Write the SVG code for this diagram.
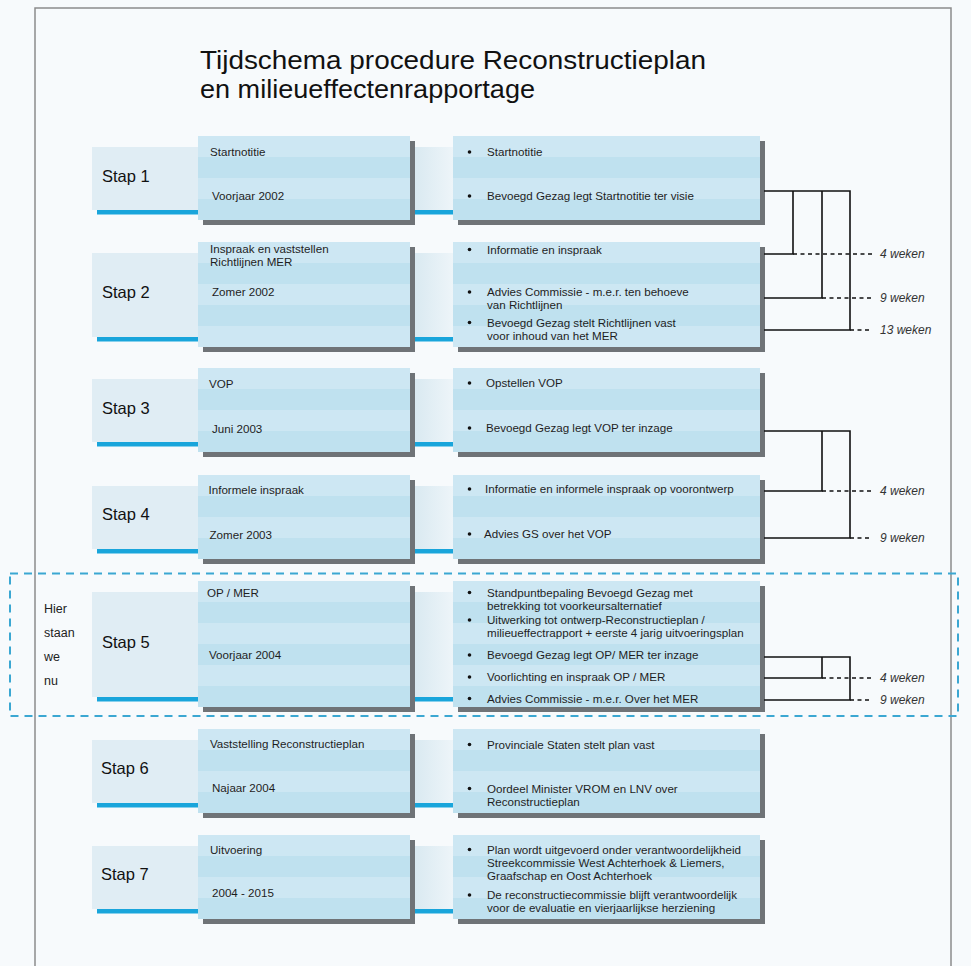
<svg xmlns="http://www.w3.org/2000/svg" width="971" height="966" viewBox="0 0 971 966">
<style>
text{font-family:"Liberation Sans",Arial,sans-serif;fill:#1e1e1e}
.t{font-size:11.6px}
.stap{font-size:16.5px;fill:#111}
.title{font-size:26px;fill:#111}
.wk{font-size:12px;font-style:italic;fill:#333}
.here{font-size:12.5px;fill:#222}
.pale{fill:#e0edf4}
.gap{fill:url(#gapgrad)}
.blue{fill:#19a5db}
.box{fill:url(#stripes)}
.shadow{fill:#6f7377}
.bul{fill:#111}
.ln{stroke:#111;stroke-width:1.6;fill:none}
.dl{stroke:#111;stroke-width:1.6;fill:none;stroke-dasharray:4 3.5}
</style>
<defs>
<pattern id="stripes" patternUnits="userSpaceOnUse" width="400" height="42">
<rect width="400" height="21" fill="#cde7f3"/>
<rect y="21" width="400" height="21" fill="#bfe1ef"/>
</pattern>
<linearGradient id="gapgrad" x1="0" y1="0" x2="1" y2="0">
<stop offset="0" stop-color="#d9e9f1"/>
<stop offset="1" stop-color="#eef5f9"/>
</linearGradient>
</defs>
<rect width="971" height="966" fill="#f7fafc"/>
<path d="M35 966V8H951V966" fill="none" stroke="#8c8c8c" stroke-width="1.5"/>

<g id="title">
<text class="title" x="200" y="68.5" textLength="506" lengthAdjust="spacingAndGlyphs">Tijdschema procedure Reconstructieplan</text>
<text class="title" x="200" y="98" textLength="335" lengthAdjust="spacingAndGlyphs">en milieueffectenrapportage</text>
</g>

<!-- Stap 1 -->
<g id="stap1" transform="translate(0,136)">
<rect class="pale" x="92" y="11" width="363" height="63"/>
<rect class="gap" x="414" y="11" width="40" height="63"/>
<rect class="blue" x="97" y="74" width="358" height="4.5"/>
<text class="stap" x="102" y="46">Stap 1</text>
</g>
<g id="stap1-fase" transform="translate(0,136)">
<rect class="shadow" x="203" y="5" width="212" height="84"/>
<rect class="box" x="198" y="0" width="212" height="84"/>
<text class="t" x="210" y="20">Startnotitie</text>
<text class="t" x="212" y="64">Voorjaar 2002</text>
</g>
<g id="stap1-acties" transform="translate(0,136)">
<rect class="shadow" x="458" y="5" width="307" height="84"/>
<rect class="box" x="453" y="0" width="307" height="84"/>
<circle class="bul" cx="469.5" cy="16" r="1.8"/>
<text class="t" x="487" y="20">Startnotitie</text>
<circle class="bul" cx="469.5" cy="60" r="1.8"/>
<text class="t" x="487" y="64">Bevoegd Gezag legt Startnotitie ter visie</text>
</g>

<!-- Stap 2 -->
<g id="stap2" transform="translate(0,242)">
<rect class="pale" x="92" y="11" width="363" height="84"/>
<rect class="gap" x="414" y="11" width="40" height="84"/>
<rect class="blue" x="97" y="95" width="358" height="4.5"/>
<text class="stap" x="102" y="56">Stap 2</text>
</g>
<g id="stap2-fase" transform="translate(0,242)">
<rect class="shadow" x="203" y="5" width="212" height="105"/>
<rect class="box" x="198" y="0" width="212" height="105"/>
<text class="t" x="210" y="11">Inspraak en vaststellen<tspan x="210" dy="13">Richtlijnen MER</tspan></text>
<text class="t" x="212" y="54">Zomer 2002</text>
</g>
<g id="stap2-acties" transform="translate(0,242)">
<rect class="shadow" x="458" y="5" width="307" height="105"/>
<rect class="box" x="453" y="0" width="307" height="105"/>
<circle class="bul" cx="469.5" cy="7.5" r="1.8"/>
<text class="t" x="487" y="11.5">Informatie en inspraak</text>
<circle class="bul" cx="469.5" cy="50" r="1.8"/>
<text class="t" x="487" y="54">Advies Commissie - m.e.r. ten behoeve<tspan x="487" dy="13">van Richtlijnen</tspan></text>
<circle class="bul" cx="469.5" cy="80.5" r="1.8"/>
<text class="t" x="487" y="84.5">Bevoegd Gezag stelt Richtlijnen vast<tspan x="487" dy="13">voor inhoud van het MER</tspan></text>
</g>

<!-- Stap 3 -->
<g id="stap3" transform="translate(0,368)">
<rect class="pale" x="92" y="11" width="363" height="63"/>
<rect class="gap" x="414" y="11" width="40" height="63"/>
<rect class="blue" x="97" y="74" width="358" height="4.5"/>
<text class="stap" x="102" y="46">Stap 3</text>
</g>
<g id="stap3-fase" transform="translate(0,368)">
<rect class="shadow" x="203" y="5" width="212" height="84"/>
<rect class="box" x="198" y="0" width="212" height="84"/>
<text class="t" x="209" y="20">VOP</text>
<text class="t" x="212" y="64.5">Juni 2003</text>
</g>
<g id="stap3-acties" transform="translate(0,368)">
<rect class="shadow" x="458" y="5" width="307" height="84"/>
<rect class="box" x="453" y="0" width="307" height="84"/>
<circle class="bul" cx="469.5" cy="15" r="1.8"/>
<text class="t" x="486" y="19">Opstellen VOP</text>
<circle class="bul" cx="469.5" cy="60" r="1.8"/>
<text class="t" x="486" y="64">Bevoegd Gezag legt VOP ter inzage</text>
</g>

<!-- Stap 4 -->
<g id="stap4" transform="translate(0,475)">
<rect class="pale" x="92" y="11" width="363" height="63"/>
<rect class="gap" x="414" y="11" width="40" height="63"/>
<rect class="blue" x="97" y="74" width="358" height="4.5"/>
<text class="stap" x="102" y="45">Stap 4</text>
</g>
<g id="stap4-fase" transform="translate(0,475)">
<rect class="shadow" x="203" y="5" width="212" height="84"/>
<rect class="box" x="198" y="0" width="212" height="84"/>
<text class="t" x="208.5" y="19">Informele inspraak</text>
<text class="t" x="209.5" y="63.5">Zomer 2003</text>
</g>
<g id="stap4-acties" transform="translate(0,475)">
<rect class="shadow" x="458" y="5" width="307" height="84"/>
<rect class="box" x="453" y="0" width="307" height="84"/>
<circle class="bul" cx="469.5" cy="14" r="1.8"/>
<text class="t" x="485" y="18">Informatie en informele inspraak op voorontwerp</text>
<circle class="bul" cx="469.5" cy="59" r="1.8"/>
<text class="t" x="484" y="63">Advies GS over het VOP</text>
</g>

<!-- Stap 5 -->
<rect x="10" y="573.5" width="948" height="142.5" fill="none" stroke="#3ba7d2" stroke-width="2" stroke-dasharray="8 6"/>
<g id="hier">
<text class="here" x="44" y="613">Hier</text>
<text class="here" x="44" y="637">staan</text>
<text class="here" x="44" y="661">we</text>
<text class="here" x="44" y="685">nu</text>
</g>
<g id="stap5" transform="translate(0,581)">
<rect class="pale" x="92" y="11" width="363" height="105"/>
<rect class="gap" x="414" y="11" width="40" height="105"/>
<rect class="blue" x="97" y="116" width="358" height="4.5"/>
<text class="stap" x="102" y="67">Stap 5</text>
</g>
<g id="stap5-fase" transform="translate(0,581)">
<rect class="shadow" x="203" y="5" width="212" height="126"/>
<rect class="box" x="198" y="0" width="212" height="126"/>
<text class="t" x="207" y="16">OP / MER</text>
<text class="t" x="209" y="78">Voorjaar 2004</text>
</g>
<g id="stap5-acties" transform="translate(0,581)">
<rect class="shadow" x="458" y="5" width="307" height="126"/>
<rect class="box" x="453" y="0" width="307" height="126"/>
<circle class="bul" cx="469.5" cy="11.5" r="1.8"/>
<text class="t" x="487" y="15.5">Standpuntbepaling Bevoegd Gezag met<tspan x="487" dy="13">betrekking tot voorkeursalternatief</tspan></text>
<circle class="bul" cx="469.5" cy="39" r="1.8"/>
<text class="t" x="487" y="43">Uitwerking tot ontwerp-Reconstructieplan /<tspan x="487" dy="13">milieueffectrapport + eerste 4 jarig uitvoeringsplan</tspan></text>
<circle class="bul" cx="469.5" cy="74" r="1.8"/>
<text class="t" x="487" y="78">Bevoegd Gezag legt OP/ MER ter inzage</text>
<circle class="bul" cx="469.5" cy="96" r="1.8"/>
<text class="t" x="487" y="100">Voorlichting en inspraak OP / MER</text>
<circle class="bul" cx="469.5" cy="117.5" r="1.8"/>
<text class="t" x="487" y="121.5">Advies Commissie - m.e.r. Over het MER</text>
</g>

<!-- Stap 6 -->
<g id="stap6" transform="translate(0,729)">
<rect class="pale" x="92" y="11" width="363" height="63"/>
<rect class="gap" x="414" y="11" width="40" height="63"/>
<rect class="blue" x="97" y="74" width="358" height="4.5"/>
<text class="stap" x="101" y="44.5">Stap 6</text>
</g>
<g id="stap6-fase" transform="translate(0,729)">
<rect class="shadow" x="203" y="5" width="212" height="84"/>
<rect class="box" x="198" y="0" width="212" height="84"/>
<text class="t" x="210" y="19">Vaststelling Reconstructieplan</text>
<text class="t" x="212" y="63">Najaar 2004</text>
</g>
<g id="stap6-acties" transform="translate(0,729)">
<rect class="shadow" x="458" y="5" width="307" height="84"/>
<rect class="box" x="453" y="0" width="307" height="84"/>
<circle class="bul" cx="469.5" cy="15.5" r="1.8"/>
<text class="t" x="487" y="19.5">Provinciale Staten stelt plan vast</text>
<circle class="bul" cx="469.5" cy="59.5" r="1.8"/>
<text class="t" x="487" y="63.5">Oordeel Minister VROM en LNV over<tspan x="487" dy="13">Reconstructieplan</tspan></text>
</g>

<!-- Stap 7 -->
<g id="stap7" transform="translate(0,835)">
<rect class="pale" x="92" y="11" width="363" height="63"/>
<rect class="gap" x="414" y="11" width="40" height="63"/>
<rect class="blue" x="97" y="74" width="358" height="4.5"/>
<text class="stap" x="101" y="45">Stap 7</text>
</g>
<g id="stap7-fase" transform="translate(0,835)">
<rect class="shadow" x="203" y="5" width="212" height="84"/>
<rect class="box" x="198" y="0" width="212" height="84"/>
<text class="t" x="210" y="18.5">Uitvoering</text>
<text class="t" x="212" y="62">2004 - 2015</text>
</g>
<g id="stap7-acties" transform="translate(0,835)">
<rect class="shadow" x="458" y="5" width="307" height="84"/>
<rect class="box" x="453" y="0" width="307" height="84"/>
<circle class="bul" cx="469.5" cy="14.5" r="1.8"/>
<text class="t" x="487" y="18.5">Plan wordt uitgevoerd onder verantwoordelijkheid<tspan x="487" dy="13">Streekcommissie West Achterhoek &amp; Liemers,</tspan><tspan x="487" dy="13">Graafschap en Oost Achterhoek</tspan></text>
<circle class="bul" cx="469.5" cy="60" r="1.8"/>
<text class="t" x="487" y="64">De reconstructiecommissie blijft verantwoordelijk<tspan x="487" dy="13">voor de evaluatie en vierjaarlijkse herziening</tspan></text>
</g>

<!-- Connectors -->
<g id="connectors">
<path class="ln" d="M764 191H850V330H764M793 191V254H764M822 191V298H764"/>
<path class="dl" d="M793 254H872M822 298H872M850 330H872"/>
<path class="ln" d="M764 431H850V538H764M822 431V491H764"/>
<path class="dl" d="M822 491H872M850 538H872"/>
<path class="ln" d="M764 657H850V700H764M822 657V678H764"/>
<path class="dl" d="M822 678H872M850 700H872"/>
<text class="wk" x="880" y="258">4 weken</text>
<text class="wk" x="880" y="302">9 weken</text>
<text class="wk" x="880" y="334">13 weken</text>
<text class="wk" x="880" y="495">4 weken</text>
<text class="wk" x="880" y="542">9 weken</text>
<text class="wk" x="880" y="682">4 weken</text>
<text class="wk" x="880" y="704">9 weken</text>
</g>
</svg>
